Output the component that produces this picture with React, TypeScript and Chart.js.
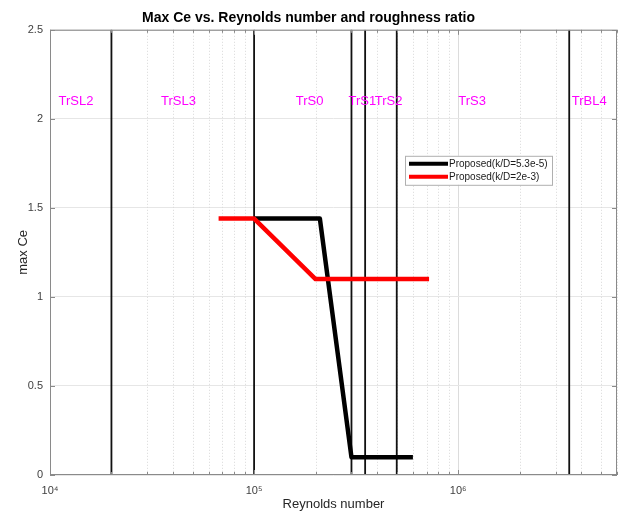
import React, { useEffect, useRef } from 'react';
import { Chart, registerables } from 'chart.js';
Chart.register(...registerables);

const smoothRe = [1e5, 2.1e5, 3e5, 6e5];
const smoothCe = [1.44, 1.44, 0.1, 0.1];
const roughRe = [6.7e4, 1e5, 2e5, 7.2e5];
const roughCe = [1.44, 1.44, 1.1, 1.1];
const boundaryRe = [2e4, 1e5, 3e5, 3.5e5, 5e5, 3.5e6];
const regimeNames = ['TrSL2', 'TrSL3', 'TrS0', 'TrS1', 'TrS2', 'TrS3', 'TrBL4'];
const regimeRe = [1.1e4, 3.5e4, 1.6e5, 2.9e5, 3.9e5, 1.0e6, 3.6e6];
const regimeCe = 2.1;
const xMajor = [1e4, 1e5, 1e6];
const xTickLabels = ['10⁴', '10⁵', '10⁶'];
const seriesLabels = ['Proposed(k/D=5.3e-5)', 'Proposed(k/D=2e-3)'];
const seriesColors = ['#000000', '#ff0000'];
const X_MIN = 1e4;
const X_MAX = 6e6;
const Y_MIN = 0;
const Y_MAX = 2.5;

const FONT = '"Liberation Sans", Arial, Helvetica, sans-serif';

const isMajor = (v: number) => xMajor.some((m) => Math.abs(m - v) / m < 1e-6);

const overlayPlugin = {
  id: 'overlay',
  beforeDatasetsDraw(chart: any) {
    const { ctx, chartArea, scales } = chart;
    const xs = scales.x;
    ctx.save();
    // dotted minor grid
    ctx.strokeStyle = '#d8d8d8';
    ctx.lineWidth = 1;
    ctx.setLineDash([1, 2]);
    xs.ticks.forEach((t: any) => {
      if (isMajor(t.value)) return;
      const px = Math.round(xs.getPixelForValue(t.value)) + 0.5;
      ctx.beginPath();
      ctx.moveTo(px, chartArea.top);
      ctx.lineTo(px, chartArea.bottom);
      ctx.stroke();
    });
    ctx.restore();
  },
  afterDatasetsDraw(chart: any) {
    const { ctx, chartArea, scales } = chart;
    const xs = scales.x;
    const ys = scales.y;
    ctx.save();
    // tick marks inside
    ctx.strokeStyle = '#8a8a8a';
    ctx.lineWidth = 1;
    xs.ticks.forEach((t: any) => {
      const px = Math.round(xs.getPixelForValue(t.value)) + 0.5;
      const len = isMajor(t.value) ? 5 : 3;
      ctx.beginPath();
      ctx.moveTo(px, chartArea.bottom);
      ctx.lineTo(px, chartArea.bottom - len);
      ctx.moveTo(px, chartArea.top);
      ctx.lineTo(px, chartArea.top + len);
      ctx.stroke();
    });
    ys.ticks.forEach((t: any) => {
      const py = Math.round(ys.getPixelForValue(t.value)) + 0.5;
      ctx.beginPath();
      ctx.moveTo(chartArea.left, py);
      ctx.lineTo(chartArea.left + 5, py);
      ctx.moveTo(chartArea.right, py);
      ctx.lineTo(chartArea.right - 5, py);
      ctx.stroke();
    });
    // axes box
    ctx.strokeRect(chartArea.left + 0.5, chartArea.top + 0.5, chartArea.right - chartArea.left - 1, chartArea.bottom - chartArea.top - 1);
    // regime labels
    ctx.fillStyle = '#ff00ff';
    ctx.font = `13px ${FONT}`;
    ctx.textAlign = 'left';
    ctx.textBaseline = 'middle';
    regimeNames.forEach((n, i) => {
      ctx.fillText(n, xs.getPixelForValue(regimeRe[i]), ys.getPixelForValue(regimeCe));
    });
    // legend
    const lx = chartArea.right - 212;
    const ly = chartArea.top + 126;
    const lw = 147;
    const lh = 29;
    ctx.fillStyle = '#ffffff';
    ctx.fillRect(lx, ly, lw, lh);
    ctx.strokeStyle = '#b0b0b0';
    ctx.lineWidth = 1;
    ctx.strokeRect(lx + 0.5, ly + 0.5, lw, lh);
    ctx.font = `10px ${FONT}`;
    ctx.textBaseline = 'middle';
    seriesLabels.forEach((lab, i) => {
      const yy = ly + 8 + i * 13;
      ctx.strokeStyle = seriesColors[i];
      ctx.lineWidth = 4;
      ctx.beginPath();
      ctx.moveTo(lx + 4, yy);
      ctx.lineTo(lx + 43, yy);
      ctx.stroke();
      ctx.fillStyle = '#1a1a1a';
      ctx.fillText(lab, lx + 44, yy);
    });
    ctx.restore();
  },
};

export default function App() {
  const ref = useRef<HTMLCanvasElement>(null);
  useEffect(() => {
    if (!ref.current) return;
    const datasets: any[] = [
      {
        label: seriesLabels[0],
        data: smoothRe.map((x, i) => ({ x, y: smoothCe[i] })),
        borderColor: seriesColors[0],
        borderWidth: 4.5,
        pointRadius: 0,
        order: 1,
        borderJoinStyle: 'round',
      },
      {
        label: seriesLabels[1],
        data: roughRe.map((x, i) => ({ x, y: roughCe[i] })),
        borderColor: seriesColors[1],
        borderWidth: 4.5,
        pointRadius: 0,
        order: 0,
        borderJoinStyle: 'round',
      },
      ...boundaryRe.map((b) => ({
        label: '',
        data: [
          { x: b, y: Y_MIN },
          { x: b, y: Y_MAX },
        ],
        borderColor: '#111111',
        borderWidth: 1.8,
        pointRadius: 0,
        order: 2,
      })),
    ];
    const chart = new Chart(ref.current, {
      type: 'line',
      data: { datasets },
      options: {
        animation: false,
        responsive: false,
        maintainAspectRatio: false,
        layout: { padding: { left: 0, right: 4, top: 0, bottom: 0 } },
        plugins: {
          legend: { display: false },
          tooltip: { enabled: false },
          title: {
            display: true,
            text: 'Max Ce vs. Reynolds number and roughness ratio',
            color: '#000000',
            font: { family: FONT, size: 14, weight: 'bold', lineHeight: 1.2 },
            padding: { top: 10, bottom: 3 },
          },
        },
        scales: {
          x: {
            type: 'logarithmic',
            min: X_MIN,
            max: X_MAX,
            afterBuildTicks: (scale: any) => {
              const t: any[] = [];
              for (let k = 4; k <= 6; k++) {
                for (let m = 1; m <= 9; m++) {
                  const v = m * Math.pow(10, k);
                  if (v <= X_MAX) t.push({ value: v });
                }
              }
              scale.ticks = t;
            },
            afterFit: (scale: any) => {
              scale.height = 37;
              scale.paddingLeft = 0;
              scale.paddingRight = 0;
            },
            ticks: {
              autoSkip: false,
              maxRotation: 0,
              padding: 9,
              color: '#404040',
              font: { family: FONT, size: 11 },
              callback: (v: any) => {
                const i = xMajor.findIndex((m) => Math.abs(m - v) / m < 1e-6);
                return i >= 0 ? xTickLabels[i] : '';
              },
            },
            grid: {
              drawTicks: false,
              color: (c: any) => {
                const v = c.tick && c.tick.value;
                return isMajor(v) ? '#dcdcdc' : 'rgba(0,0,0,0)';
              },
            },
            border: { display: false },
            title: {
              display: true,
              text: 'Reynolds number',
              color: '#262626',
              font: { family: FONT, size: 13 },
              padding: { top: 0, bottom: 0 },
            },
          },
          y: {
            type: 'linear',
            min: Y_MIN,
            max: Y_MAX,
            afterFit: (scale: any) => {
              scale.width = 50;
            },
            ticks: {
              stepSize: 0.5,
              padding: 7,
              color: '#404040',
              font: { family: FONT, size: 11 },
              callback: (v: any) => String(v),
            },
            grid: { drawTicks: false, color: '#e6e6e6' },
            border: { display: false },
            title: {
              display: true,
              text: 'max Ce',
              color: '#262626',
              font: { family: FONT, size: 13 },
              padding: { top: 16, bottom: 0 },
            },
          },
        },
      },
      plugins: [overlayPlugin],
    } as any);
    return () => chart.destroy();
  }, []);
  return (
    <div style={{ position: 'absolute', left: 0, top: 0, width: 621, height: 512, background: '#ffffff' }}>
      <canvas ref={ref} width={621} height={512} style={{ width: 621, height: 512 }} />
    </div>
  );
}
